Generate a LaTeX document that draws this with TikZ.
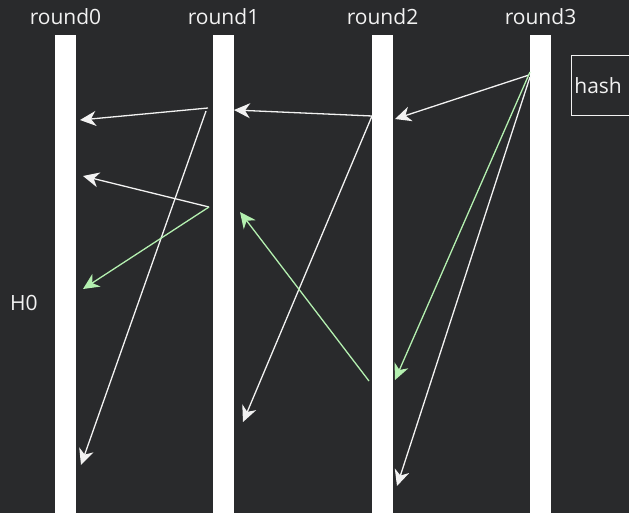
\documentclass[tikz,border=0pt]{standalone}
\usepackage{fontspec}
\setmainfont{Open Sans}
\usetikzlibrary{arrows.meta,positioning}
\definecolor{BoardBg}{HTML}{292A2C}
\definecolor{SoftWhite}{HTML}{F2F2F2}
\definecolor{MintGreen}{HTML}{B4F0B0}

\begin{document}
\begin{tikzpicture}[x=1pt,y=-1pt, every node/.style={font=\fontsize{21}{24}\selectfont,text=SoftWhite},
 bar/.style={fill=white,minimum width=21pt,minimum height=490pt,inner sep=0pt,anchor=north},
 lbl/.style={inner sep=0pt},
 arr/.style={-{Stealth[length=16pt,width=15pt,inset=5pt]},line width=1.3pt,draw=SoftWhite},
 garr/.style={arr,draw=MintGreen}]
\path[use as bounding box] (0,0) rectangle (629,513);
\fill[BoardBg] (0,0) rectangle (629,513);
\clip (0,0) rectangle (629,513);
% rounds
\node[bar] (r0) at (65.5,35) {};
\node[bar] (r1) at (223.5,35) {};
\node[bar] (r2) at (382.5,35) {};
\node[bar] (r3) at (540.5,35) {};
\node[lbl,above=10pt of r0] (t0) {round0};
\node[lbl,above=10pt of r1] (t1) {round1};
\node[lbl,above=10pt of r2] (t2) {round2};
\node[lbl,above=10pt of r3] (t3) {round3};
\node[lbl] (h0) at (24,303) {H0};
\node[draw=SoftWhite,line width=0.8pt,anchor=north west,text width=64pt,inner xsep=3pt,minimum height=60pt] (hash) at (571,55) {hash};
% arrow ends
\coordinate (r1a) at (208,108); \coordinate (r1b) at (206,111); \coordinate (r1c) at (209,207);
\coordinate (r2a) at (372,116); \coordinate (r2b) at (369,381);
\coordinate (r3a) at (529,75); \coordinate (r3b) at (530,72); \coordinate (r3c) at (530,77);
\coordinate (q0a) at (80,120); \coordinate (q0b) at (83,176); \coordinate (q0c) at (83,289); \coordinate (q0d) at (81,465);
\coordinate (q1a) at (234,110); \coordinate (q1b) at (240,212); \coordinate (q1c) at (243,422);
\coordinate (q2a) at (395,119); \coordinate (q2b) at (395,380); \coordinate (q2c) at (397,486);
\draw[arr] (r1a)--(q0a); \draw[arr] (r1b)--(q0d);
\draw[arr] (r1c)--(q0b); \draw[garr] (r1c)--(q0c);
\draw[arr] (r2a)--(q1a); \draw[arr] (r2a)--(q1c); \draw[garr] (r2b)--(q1b);
\draw[arr] (r3a)--(q2a); \draw[garr] (r3b)--(q2b); \draw[arr] (r3c)--(q2c);
\end{tikzpicture}
\end{document}
